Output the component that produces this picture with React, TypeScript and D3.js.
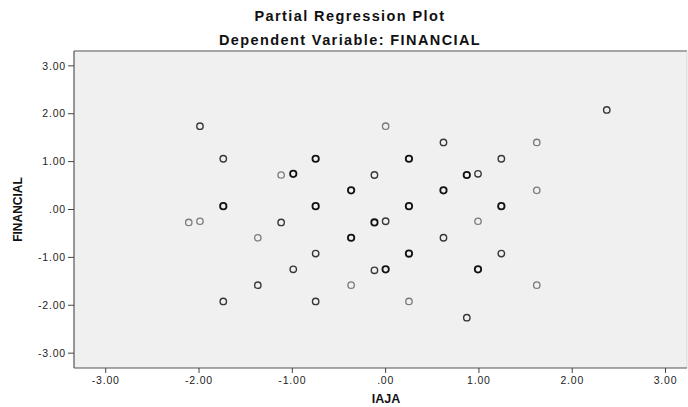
import React from "react";
import * as d3 from "d3";

// Partial regression plot: IAJA (x) vs FINANCIAL (y)
const xValues = [
  -1.99, 0.0, -1.74, -0.75, -1.12, -0.99, -0.12, -0.37, -1.74, -0.75,
  -2.11, -1.99, -1.12, -0.12, 0.0, -1.37, -0.37, -0.75, -0.99, -0.12,
  0.0, -1.37, -0.37, -1.74, -0.75, 2.37, 0.62, 1.62, 0.25, 1.24,
  0.87, 0.99, 0.62, 1.62, 0.25, 1.24, 0.99, 0.62, 0.25, 1.24,
  0.99, 1.62, 0.25, 0.87,
];
const yValues = [
  1.74, 1.74, 1.06, 1.06, 0.72, 0.745, 0.72, 0.4, 0.07, 0.07,
  -0.27, -0.245, -0.27, -0.27, -0.245, -0.59, -0.59, -0.92, -1.25, -1.27,
  -1.25, -1.58, -1.58, -1.92, -1.92, 2.08, 1.4, 1.4, 1.06, 1.06,
  0.72, 0.745, 0.4, 0.4, 0.07, 0.07, -0.245, -0.59, -0.92, -0.92,
  -1.25, -1.58, -1.92, -2.26,
];
// overlapping cases drawn darker (1 = single, 3 = several)
const overlap = [
  2, 1, 2, 3, 1, 3, 2, 3, 3, 3,
  1, 1, 2, 3, 2, 1, 3, 2, 2, 2,
  3, 2, 1, 2, 2, 2, 2, 1, 3, 2,
  3, 2, 3, 1, 3, 3, 1, 2, 3, 2,
  3, 1, 1, 2,
];
const tickValues = [-3, -2, -1, 0, 1, 2, 3];

const fmt = (v: number) => {
  if (v === 0) return ".00";
  return v.toFixed(2);
};

const inkColor: Record<number, string> = { 1: "#7a7a7a", 2: "#383838", 3: "#111111" };
const inkWidth: Record<number, number> = { 1: 1.3, 2: 1.4, 3: 1.8 };

export default function App() {
  const width = 688;
  const height = 407;
  const margin = { top: 51, right: 1, bottom: 39, left: 74 };
  const plotW = width - margin.left - margin.right;
  const plotH = height - margin.top - margin.bottom;

  const xScale = d3.scaleLinear().domain([-3.34, 3.23]).range([0, plotW]);
  const yScale = d3.scaleLinear().domain([-3.31, 3.31]).range([plotH, 0]);

  const font = "'Liberation Sans', Arial, sans-serif";

  return (
    <svg
      width={width}
      height={height}
      style={{ position: "fixed", left: 0, top: 0, background: "#ffffff" }}
      fontFamily={font}
    >
      {/* Titles */}
      <text x={350} y={21} textAnchor="middle" fontSize={14.5} letterSpacing={1.4} fontWeight="bold" fill="#111">
        Partial Regression Plot
      </text>
      <text x={350} y={45} textAnchor="middle" fontSize={14.5} letterSpacing={1.4} fontWeight="bold" fill="#111">
        Dependent Variable: FINANCIAL
      </text>

      <g transform={`translate(${margin.left},${margin.top})`}>
        <rect x={0} y={0} width={plotW} height={plotH} fill="#f0f0f0" />
        {/* frame */}
        <line x1={0} x2={plotW} y1={0} y2={0} stroke="#8a8a8a" strokeWidth={1.5} />
        <line x1={plotW} x2={plotW} y1={0} y2={plotH} stroke="#d8d8d8" strokeWidth={1} />
        <line x1={0} x2={0} y1={0} y2={plotH} stroke="#555" strokeWidth={1.2} />
        <line x1={0} x2={plotW} y1={plotH} y2={plotH} stroke="#555" strokeWidth={1.2} />

        {/* y axis */}
        {tickValues.map((t) => (
          <g key={`y${t}`} transform={`translate(0,${yScale(t)})`}>
            <line x1={-6} x2={0} stroke="#444" strokeWidth={1} />
            <text x={-8} dy="0.35em" textAnchor="end" fontSize={10.5} letterSpacing={0.8} fill="#222">
              {fmt(t)}
            </text>
          </g>
        ))}

        {/* x axis */}
        {tickValues.map((t) => (
          <g key={`x${t}`} transform={`translate(${xScale(t)},${plotH})`}>
            <line y1={0} y2={5} stroke="#444" strokeWidth={1} />
            <text y={16} textAnchor="middle" fontSize={10.5} letterSpacing={0.8} fill="#222">
              {fmt(t)}
            </text>
          </g>
        ))}

        {/* points */}
        {xValues.map((xv, i) => (
          <circle
            key={i}
            cx={xScale(xv)}
            cy={yScale(yValues[i])}
            r={3.2}
            fill="none"
            stroke={inkColor[overlap[i]]}
            strokeWidth={inkWidth[overlap[i]]}
          />
        ))}
      </g>

      {/* axis titles */}
      <text x={386} y={403} textAnchor="middle" fontSize={12.5} fontWeight="bold" fill="#111">
        IAJA
      </text>
      <text
        transform={`translate(22,${margin.top + yScale(0)}) rotate(-90)`}
        textAnchor="middle"
        fontSize={12}
        fontWeight="bold"
        fill="#111"
      >
        FINANCIAL
      </text>
    </svg>
  );
}
